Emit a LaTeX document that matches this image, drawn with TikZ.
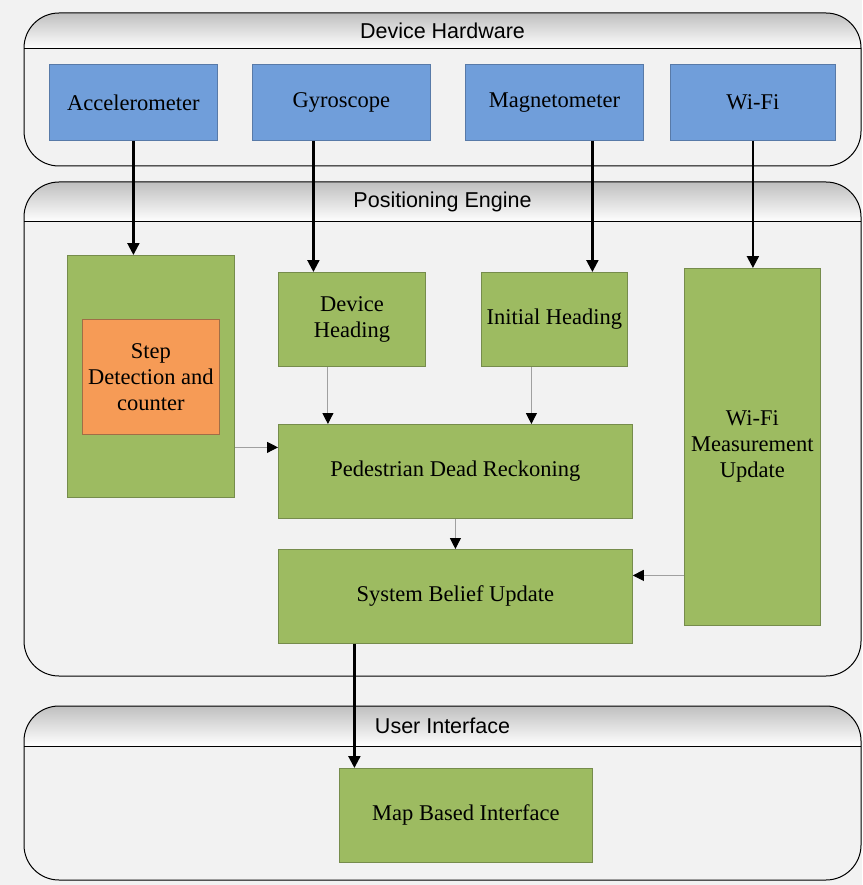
\documentclass[tikz,border=0pt]{standalone}
\usepackage{fontspec}
\setmainfont{Liberation Serif}
\newfontfamily\lanefont{Liberation Sans}
\usetikzlibrary{arrows.meta,positioning,calc}

\definecolor{pagegray}{RGB}{242,242,242}
\definecolor{hwblue}{RGB}{112,158,218}
\definecolor{hwblueline}{RGB}{88,122,168}
\definecolor{swgreen}{RGB}{157,187,97}
\definecolor{swgreenline}{RGB}{118,140,76}
\definecolor{steporange}{RGB}{246,155,86}
\definecolor{steporangeline}{RGB}{160,110,70}
\definecolor{thingray}{RGB}{160,160,160}

\tikzset{
    box/.style      = {draw, line width=0.8pt, inner sep=0pt, anchor=north west, align=center,
                       font=\fontsize{22.5}{26}\selectfont},
    sensor/.style   = {box, fill=hwblue, draw=hwblueline},
    module/.style   = {box, fill=swgreen, draw=swgreenline},
    stepper/.style  = {box, fill=steporange, draw=steporangeline},
    thickarrow/.style = {line width=2.2pt, -{Triangle[length=12pt,width=12pt]}},
    thinarrow/.style  = {draw=thingray, line width=1pt, -{Triangle[length=11pt,width=11pt,fill=black,color=black]}},
    lanetitle/.style  = {font=\lanefont\fontsize{21.5}{24}\selectfont}
}

% one lane: top y, header line y, bottom y, title
\newcommand{\lane}[4]{%
    \begin{scope}
        \clip[rounded corners=35pt] (24,#1) rectangle (861,#3);
        \shade[top color=black!25, bottom color=white] (24,#1) rectangle (861,#2);
    \end{scope}
    \draw[line width=1pt, rounded corners=35pt] (24,#1) rectangle (861,#3);
    \draw[line width=1pt] (24,#2) -- (861,#2);
    \node[lanetitle] at (442.5,{(#1+#2)/2}) {#4};
}

\begin{document}
\begin{tikzpicture}[x=1pt, y=-1pt]
    \fill[pagegray] (0,0) rectangle (862,885);  % page background
    \useasboundingbox (0,0) rectangle (862,885);

    % the three lanes
    \lane{13}{49}{166}{Device Hardware}
    \lane{182}{222}{676}{Positioning Engine}
    \lane{706}{746}{880}{User Interface}

    % Device Hardware
    \node[sensor, minimum width=168pt, minimum height=76pt] (accel) at (49,64)  {Accelerometer};
    \node[sensor, minimum width=178pt, minimum height=76pt] (gyro)  at (252,64) {Gyroscope};
    \node[sensor, minimum width=178pt, minimum height=76pt] (magn)  at (465,64) {Magnetometer};
    \node[sensor, minimum width=165pt, minimum height=76pt] (wifi)  at (670,64) {Wi-Fi};

    % Positioning Engine
    \node[module, minimum width=167pt, minimum height=242pt] (stepout) at (67,255) {};
    \node[stepper, minimum width=137pt, minimum height=115pt] (step) at (82,319) {Step\\Detection and\\counter};
    \node[module, minimum width=147pt, minimum height=94pt]  (devhead)  at (278,272) {Device\\Heading};
    \node[module, minimum width=146pt, minimum height=94pt]  (inithead) at (481,272) {Initial Heading};
    \node[module, minimum width=136pt, minimum height=357pt] (wifimeas) at (684,268) {Wi-Fi\\Measurement\\Update};
    \node[module, minimum width=354pt, minimum height=94pt]  (pdr)      at (278,424) {Pedestrian Dead Reckoning};
    \node[module, minimum width=354pt, minimum height=94pt]  (belief)   at (278,549) {System Belief Update};

    % User Interface
    \node[module, minimum width=253pt, minimum height=94pt] (map) at (339,768) {Map Based Interface};

    % sensors into the engine
    \draw[thickarrow] (accel.south) -- (accel.south |- stepout.north);
    \draw[thickarrow] ([xshift=-28pt]gyro.south) -- ([xshift=-28pt]gyro.south |- devhead.north);
    \draw[thickarrow] ([xshift=38pt]magn.south) -- ([xshift=38pt]magn.south |- inithead.north);
    \draw[thickarrow] (wifi.south) -- (wifi.south |- wifimeas.north);

    % inside the engine
    \draw[thinarrow] ([xshift=-24pt]devhead.south) -- ([xshift=-24pt]devhead.south |- pdr.north);
    \draw[thinarrow] ([xshift=-23pt]inithead.south) -- ([xshift=-23pt]inithead.south |- pdr.north);
    \draw[thinarrow] ([yshift=-71pt]stepout.east) -- ([yshift=-71pt]stepout.east -| pdr.west);
    \draw[thinarrow] (pdr.south) -- (belief.north);
    \draw[thinarrow] ([yshift=21pt]belief.east -| wifimeas.west) -- ([yshift=21pt]belief.east);

    % out to the user
    \draw[thickarrow] ([xshift=-101pt]belief.south) -- ([xshift=-101pt]belief.south |- map.north);
\end{tikzpicture}
\end{document}
